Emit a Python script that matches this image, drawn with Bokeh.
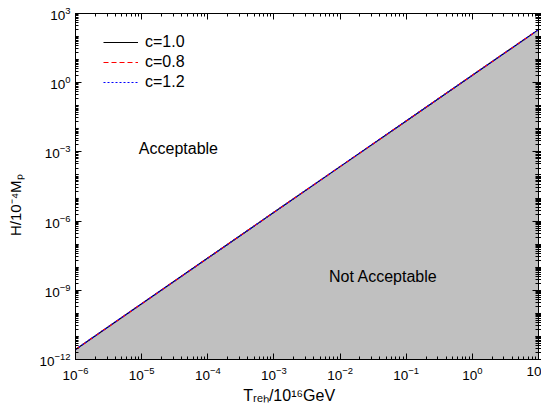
from bokeh.plotting import figure
from bokeh.models import (LogAxis, FixedTicker, Label, Legend, LegendItem,
                          ColumnDataSource, Range1d)
from bokeh.embed import file_html
from bokeh.resources import INLINE

# ---- data ----
T_reh = [1e-6, 1e-5, 1e-4, 1e-3, 1e-2, 1e-1, 1.0, 10.0]
H_c10 = [2.7e-12, 2.6e-10, 2.5e-8, 2.4e-6, 2.3e-4, 2.2e-2, 2.1, 2.0e2]
H_c08 = [2.7e-12, 2.6e-10, 2.5e-8, 2.4e-6, 2.3e-4, 2.2e-2, 2.1, 2.0e2]
H_c12 = [2.7e-12, 2.6e-10, 2.5e-8, 2.4e-6, 2.3e-4, 2.2e-2, 2.1, 2.0e2]
H_floor = 1e-12

x_major = [1e-6, 1e-5, 1e-4, 1e-3, 1e-2, 1e-1, 1.0, 10.0]
y_major = [1e-12, 1e-9, 1e-6, 1e-3, 1.0, 1e3]
legend_labels = ["c=1.0", "c=0.8", "c=1.2"]
region_labels = ["Acceptable", "Not Acceptable"]
x_title = "T\u1d63\u2091\u2095/10\u00b9\u2076GeV"
y_title = "H/10\u207b\u2074M\u209a"

x_minor = [k * 10.0 ** e for e in range(-6, 1) for k in range(1, 11)]
y_minor = [k * 10.0 ** e for e in range(-12, 3) for k in range(1, 11)]

FONT = "Liberation Sans"
NB = "\u00a0"

p = figure(x_axis_type="log", y_axis_type="log",
           x_range=Range1d(1e-6, 10), y_range=Range1d(1e-12, 1e3),
           frame_width=463, frame_height=346,
           min_border_left=75, min_border_top=13, min_border_right=0,
           min_border_bottom=48,
           output_backend="svg", toolbar_location=None)
p.xgrid.visible = False
p.ygrid.visible = False
p.outline_line_color = "black"
p.outline_line_width = 1
p.background_fill_color = "white"
p.border_fill_color = "white"

def style_axis(ax, ticks, minor, show_labels=True):
    ax.ticker = FixedTicker(ticks=ticks, minor_ticks=minor)
    ax.axis_line_color = "black"
    ax.major_tick_line_color = "black"
    ax.minor_tick_line_color = "black"
    ax.major_tick_in = 6
    ax.major_tick_out = 0
    ax.minor_tick_in = 3
    ax.minor_tick_out = 0
    if show_labels:
        ax.major_label_text_font = FONT
        ax.major_label_text_font_size = "13.5px"
        ax.major_label_text_color = "black"
        ax.axis_label_text_font = FONT
        ax.axis_label_text_font_size = "16px"
        ax.axis_label_text_font_style = "normal"
        ax.axis_label_text_color = "black"
    else:
        ax.major_label_text_font_size = "1px"
        ax.major_label_text_alpha = 0
        ax.major_label_standoff = 0

xa = p.xaxis[0]
style_axis(xa, x_major, x_minor)
xa.major_label_standoff = 7
xa.major_label_overrides = {10.0: "10"}
xa.axis_label = x_title + NB * 8
xa.axis_label_standoff = 4

ya = p.yaxis[0]
style_axis(ya, y_major, y_minor)
ya.major_label_standoff = 5
ya.axis_label = y_title + NB * 9
ya.axis_label_text_font_size = "15px"
ya.axis_label_standoff = 12

top = LogAxis()
style_axis(top, x_major, x_minor, show_labels=False)
p.add_layout(top, "above")
right = LogAxis()
style_axis(right, y_major, y_minor, show_labels=False)
right.minor_tick_out = 3
right.major_tick_out = 3
p.add_layout(right, "right")

src = ColumnDataSource(dict(x=T_reh, y10=H_c10, y08=H_c08, y12=H_c12))
p.varea(x="x", y1=H_floor, y2="y10", source=src, fill_color="#C0C0C0")
r1 = p.line("x", "y10", source=src, line_color="black", line_width=1.2)
r2 = p.line("x", "y08", source=src, line_color="red", line_width=1.2,
            line_dash="5 3")
r3 = p.line("x", "y12", source=src, line_color="blue", line_width=1.2,
            line_dash="2 2")

legend = Legend(items=[LegendItem(label=legend_labels[0], renderers=[r1]),
                       LegendItem(label=legend_labels[1], renderers=[r2]),
                       LegendItem(label=legend_labels[2], renderers=[r3])],
                location=(28, 267), orientation="vertical",
                glyph_width=35, glyph_height=20, label_height=20,
                label_standoff=7, spacing=0, padding=0, margin=0,
                border_line_alpha=0, background_fill_alpha=0,
                label_text_font=FONT, label_text_font_size="16px",
                label_text_color="black")
p.add_layout(legend)

# region texts
p.add_layout(Label(x=3.6e-5, y=1.4e-3, text=region_labels[0], text_font=FONT,
                   text_font_size="16px", text_align="center",
                   text_baseline="middle", text_color="black"))
p.add_layout(Label(x=4.5e-2, y=4e-9, text=region_labels[1], text_font=FONT,
                   text_font_size="16px", text_align="center",
                   text_baseline="middle", text_color="black"))

open("out.html", "w").write(file_html(p, INLINE))
